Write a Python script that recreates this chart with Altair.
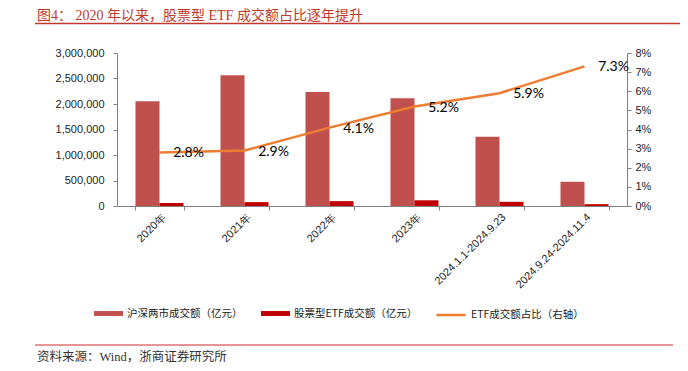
import altair as alt
import pandas as pd

categories = ["2020年", "2021年", "2022年", "2023年", "2024.1.1-2024.9.23", "2024.9.24-2024.11.4"]
market_turnover = [2055000, 2565000, 2235000, 2115000, 1360000, 475000]
etf_turnover = [59000, 76000, 95000, 112000, 82000, 36000]
etf_share = [0.028, 0.029, 0.041, 0.052, 0.059, 0.073]
share_labels = ["2.8%", "2.9%", "4.1%", "5.2%", "5.9%", "7.3%"]
series_names = ["沪深两市成交额（亿元）", "股票型ETF成交额（亿元）"]
series_colors = ["#C0504D", "#C00000"]
line_name = "ETF成交额占比（右轴）"
line_color = "#ED7D31"
title_text = "图4：  2020 年以来，股票型 ETF 成交额占比逐年提升"
source_text = "资料来源：Wind，浙商证券研究所"
left_ticks = [0, 500000, 1000000, 1500000, 2000000, 2500000, 3000000]
right_ticks = [0, 0.01, 0.02, 0.03, 0.04, 0.05, 0.06, 0.07, 0.08]

serif_cjk = "'Liberation Serif', 'Noto Sans CJK SC'"

bars_df = pd.DataFrame({
    "category": categories * 2,
    "series": [series_names[0]] * len(categories) + [series_names[1]] * len(categories),
    "value": market_turnover + etf_turnover,
})
line_df = pd.DataFrame({
    "category": categories,
    "share": etf_share,
    "label": share_labels,
    "series": [line_name] * len(categories),
})

x_scale = alt.Scale(domain=categories, paddingInner=0.435, paddingOuter=0.2175)
x_axis = alt.Axis(title=None, labelAngle=-45, tickBand="extent", labelFontSize=11,
                  labelFont="Liberation Sans", labelColor="#222", domainColor="#808080",
                  tickColor="#808080", tickSize=4, labelPadding=1)

right_axis = alt.Axis(title=None, values=right_ticks, format=".0%", orient="right",
                      tickCount=9, labelOverlap=False,
                      labelFontSize=11, labelFont="Liberation Sans", labelColor="#222",
                      domainColor="#808080", tickColor="#808080", tickSize=4,
                      labelPadding=4, grid=False)
right_scale = alt.Scale(domain=[0, 0.08], nice=False)

bars = alt.Chart(bars_df).mark_bar().encode(
    x=alt.X("category:N", sort=categories, scale=x_scale, axis=x_axis),
    xOffset=alt.XOffset("series:N", sort=series_names,
                        scale=alt.Scale(domain=series_names, paddingInner=0, paddingOuter=0)),
    y=alt.Y("value:Q", scale=alt.Scale(domain=[0, 3000000], nice=False),
            axis=alt.Axis(title=None, values=left_ticks, format=",d", orient="left",
                          labelOverlap=False,
                          labelFontSize=11, labelFont="Liberation Sans", labelColor="#222",
                          domainColor="#808080", tickColor="#808080", tickSize=4,
                          labelPadding=9, grid=False)),
    color=alt.Color("series:N", sort=series_names,
                    scale=alt.Scale(domain=series_names, range=series_colors),
                    legend=alt.Legend(title=None, orient="none", legendX=-23, legendY=246,
                                      direction="horizontal",
                                      symbolType="M-1,-0.17H1V0.17H-1Z", symbolSize=841,
                                      symbolStrokeWidth=0, columnPadding=18,
                                      labelFontSize=10.5, labelFont="Noto Sans CJK SC",
                                      labelColor="#222", labelOffset=4)),
)

line = alt.Chart(line_df).mark_line(strokeWidth=2.5).encode(
    x=alt.X("category:N", sort=categories, scale=x_scale),
    y=alt.Y("share:Q", scale=right_scale, axis=right_axis),
    stroke=alt.Stroke("series:N", scale=alt.Scale(domain=[line_name], range=[line_color]),
                      legend=alt.Legend(title=None, orient="none", legendX=318, legendY=246,
                                        symbolType="stroke", symbolSize=841,
                                        symbolStrokeWidth=2.5,
                                        labelFontSize=10.5, labelFont="Noto Sans CJK SC",
                                        labelColor="#222", labelOffset=4)),
)

labels = alt.Chart(line_df).mark_text(dx=29, dy=1, fontSize=14, font="Lato", color="#000").encode(
    x=alt.X("category:N", sort=categories, scale=x_scale),
    y=alt.Y("share:Q", scale=right_scale, axis=right_axis),
    text="label:N",
)

title_mark = alt.Chart(pd.DataFrame({"t": [title_text]})).mark_text(
    align="left", baseline="alphabetic", fontSize=14, font=serif_cjk, color="#C0392B"
).encode(text="t:N", x=alt.value(-80), y=alt.value(-33))

top_rule = alt.Chart(pd.DataFrame({"t": [0]})).mark_rule(color="#C0392B", strokeWidth=1.5).encode(
    x=alt.value(-82), x2=alt.value(571), y=alt.value(-29.5))

bottom_rule = alt.Chart(pd.DataFrame({"t": [0]})).mark_rule(color="#E59595", strokeWidth=2).encode(
    x=alt.value(-82), x2=alt.value(556), y=alt.value(292))

source_mark = alt.Chart(pd.DataFrame({"t": [source_text]})).mark_text(
    align="left", baseline="middle", fontSize=12.5, font=serif_cjk, color="#333"
).encode(text="t:N", x=alt.value(-80), y=alt.value(304))

right_layer = alt.layer(line, labels)

chart = alt.layer(bars, right_layer, title_mark, top_rule, bottom_rule, source_mark).resolve_scale(
    y="independent"
).properties(
    width=510, height=153,
    autosize=alt.AutoSizeParams(type="none"),
    padding={"left": 109, "top": 45, "right": 53, "bottom": 157},
).configure_view(stroke=None)

chart.save("out.html", embed_options={"renderer": "svg", "actions": False})
